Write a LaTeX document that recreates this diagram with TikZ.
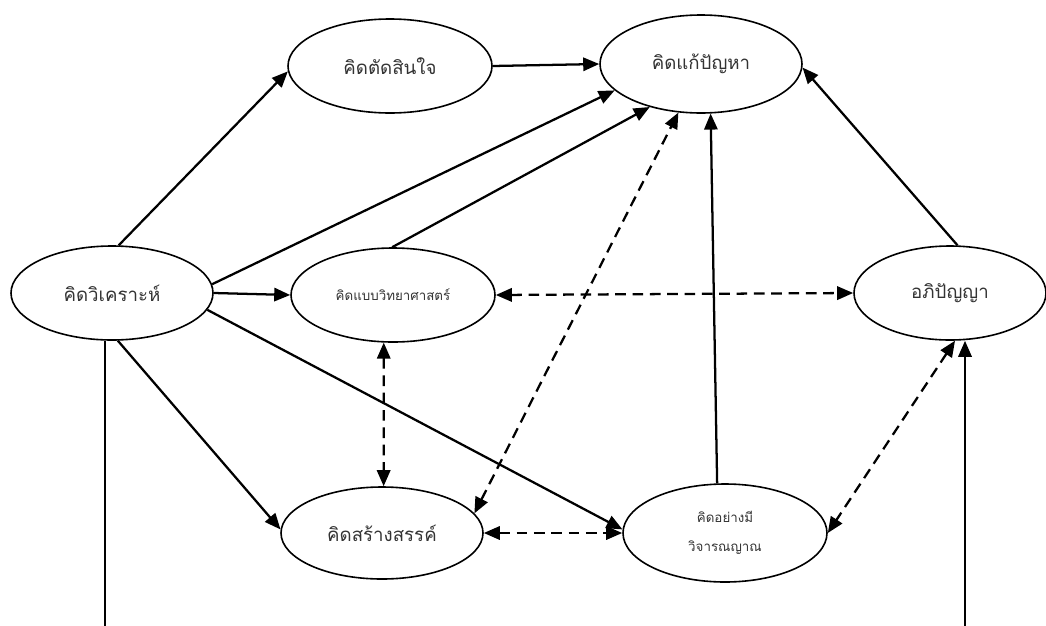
\documentclass[tikz,border=0pt]{standalone}
\usepackage{fontspec}
\newfontfamily\thaifont[Script=Thai]{Loma}
\usetikzlibrary{shapes.geometric,arrows.meta}

\begin{document}
\begin{tikzpicture}[x=0.75pt,y=-0.75pt,
  oval/.style={ellipse, draw, line width=1.2pt, inner sep=0pt, text=black!80,
    font=\thaifont\fontsize{14}{16}\selectfont},
  small/.style={font=\thaifont\fontsize{10}{22}\selectfont, align=center},
  tip/.style={-{Triangle[length=12pt,width=10pt]}},
  link/.style={line width=1.7pt, tip},
  both/.style={line width=1.7pt, dash pattern=on 8pt off 5pt,
    {Triangle[length=12pt,width=10pt]}-{Triangle[length=12pt,width=10pt]}},
  plain/.style={line width=1.7pt}]
\useasboundingbox (0,0) rectangle (1046,625);

% thinking modes
\node[oval, minimum width=151.5pt, minimum height=70.5pt] (ana) at (112,293) {คิดวิเคราะห์};
\node[oval, minimum width=153pt, minimum height=70.5pt] (dec) at (390,66) {คิดตัดสินใจ};
\node[oval, minimum width=151.5pt, minimum height=73.5pt] (pro) at (701,64) {คิดแก้ปัญหา};
\node[oval, small, minimum width=153pt, minimum height=70.5pt] (sci) at (393,295) {คิดแบบวิทยาศาสตร์};
\node[oval, minimum width=144pt, minimum height=70.5pt] (wis) at (950,293) {อภิปัญญา};
\node[oval, minimum width=151.5pt, minimum height=69pt] (cre) at (382,533) {คิดสร้างสรรค์};
\node[oval, small, minimum width=153pt, minimum height=73.5pt] (cri) at (725,533) {คิดอย่างมี\\วิจารณญาณ};

% one-way links
\draw[link] (ana.82.6) -- (dec.183.4);
\draw[link] (dec.east) -- (pro.west);
\draw[link] (ana.5.7) -- (pro.197.7);
\draw[link] (sci.91) -- (pro.220.6);
\draw[link] (cri.99.3) -- (pro.281.3);
\draw[link] (wis.81.2) -- (pro.358.3);
\draw[link] (ana.east) -- (sci.west);
\draw[link] (ana.350.4) -- (cri.178.3);
\draw[link] (ana.277.3) -- (cre.178);

% two-way links
\draw[both] (cre.12) -- (pro.245.7);
\draw[both] (sci.east) -- (wis.west);
\draw[both] (sci.259) -- (cre.88);
\draw[both] (cre.east) -- (cri.west);
\draw[both] (wis.276) -- (cri.east);

% lines running off the lower edge
\coordinate (lb) at (105,630);
\coordinate (rb) at (965,630);
\draw[plain] (ana.south -| lb) -- (lb);
\draw[link] (rb) -- (rb |- wis.south);
\end{tikzpicture}
\end{document}
